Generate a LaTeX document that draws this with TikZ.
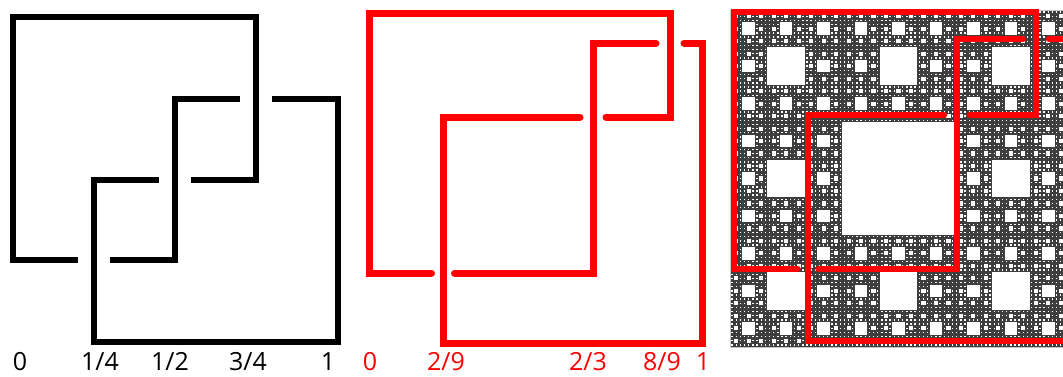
\documentclass[tikz,border=0pt]{standalone}
\usepackage{fontspec}
\setmainfont{Open Sans}
\definecolor{knotred}{RGB}{255,0,0}
\definecolor{carpetdark}{RGB}{62,62,62}
\newcommand\carpetholes[4]{%
  \pgfmathsetmacro\skS{#3/3}%
  \fill[white] (#1+\skS,#2+\skS) rectangle +(\skS,\skS);%
  \ifnum#4>1
    \foreach \ci/\cj in {0/0,1/0,2/0,0/1,2/1,0/2,1/2,2/2}{%
      \pgfmathsetmacro\skX{#1+\ci*\skS}%
      \pgfmathsetmacro\skY{#2+\cj*\skS}%
      \pgfmathtruncatemacro\skD{#4-1}%
      \edef\sknext{\noexpand\carpetholes{\skX}{\skY}{\skS}{\skD}}%
      \sknext
    }%
  \fi
}
\begin{document}
\begin{tikzpicture}[x=1pt,y=-1pt,
  blackknot/.style={line width=5.5pt,line cap=butt,line join=miter,draw=black},
  redknot/.style={line width=7pt,line cap=round,line join=miter,draw=knotred},
  redknotthin/.style={line width=6.5pt,line cap=round,line join=miter,draw=knotred},
  blacklabel/.style={anchor=base,font=\fontsize{25}{30}\selectfont,text=black,inner sep=0pt},
  redlabel/.style={anchor=base,font=\fontsize{25}{30}\selectfont,text=knotred,inner sep=0pt}]
\useasboundingbox (0,0) rectangle (1063,376);
\fill[white] (0,0) rectangle (1063,376);

% ---------- left panel (black) ----------
% x: 13 94 175 256 338 ; y (bottom->top): 342 260 180 99 17
\draw[blackknot] (94-16,260) -- (13,260) -- (13,17) -- (256,17) -- (256,180) -- (175+16,180);
\draw[blackknot] (175-16,180) -- (94,180) -- (94,342) -- (338,342) -- (338,99) -- (256+16,99);
\draw[blackknot] (256-16,99) -- (175,99) -- (175,260) -- (94+16,260);
\node[blacklabel] (b0) at (20,370) {0};
\node[blacklabel] (b1) at (100,370) {1/4};
\node[blacklabel] (b2) at (170,370) {1/2};
\node[blacklabel] (b3) at (248,370) {3/4};
\node[blacklabel] (b4) at (328,370) {1};

% ---------- middle panel (red) ----------
% x: 369 443 593 670 702 ; y: 343 273 117 43 13
\draw[redknot] (443-11.5,273) -- (369,273) -- (369,13) -- (670,13) -- (670,117) -- (593+13,117);
\draw[redknot] (593-13,117) -- (443,117) -- (443,343) -- (702,343) -- (702,43) -- (670+14,43);
\draw[redknot] (670-14,43) -- (593,43) -- (593,273) -- (443+11.5,273);
\node[redlabel] (r0) at (370,370) {0};
\node[redlabel] (r1) at (446,370) {2/9};
\node[redlabel] (r2) at (588,370) {2/3};
\node[redlabel] (r3) at (662,370) {8/9};
\node[redlabel] (r4) at (703,370) {1};

% ---------- right panel (carpet) ----------
\begin{scope}
\clip (725,0) rectangle (1063,376);
\fill[carpetdark] (730,10) rectangle (1067,347);
\carpetholes{730}{10}{337}{5}
\draw[gray!45,line width=0.8pt] (730,10) rectangle (1067,347);
% x: 734 808 957 1036 1070 ; y: 341 269 115 39 12
\draw[redknotthin] (808-10.5,269) -- (734,269) -- (734,12) -- (1036,12) -- (1036,115) -- (957+13,115);
\draw[redknotthin] (957-13,115) -- (808,115) -- (808,341) -- (1070,341) -- (1070,39) -- (1036+13,39);
\draw[redknotthin] (1036-13,39) -- (957,39) -- (957,269) -- (808+10.5,269);
\end{scope}
\end{tikzpicture}
\end{document}
